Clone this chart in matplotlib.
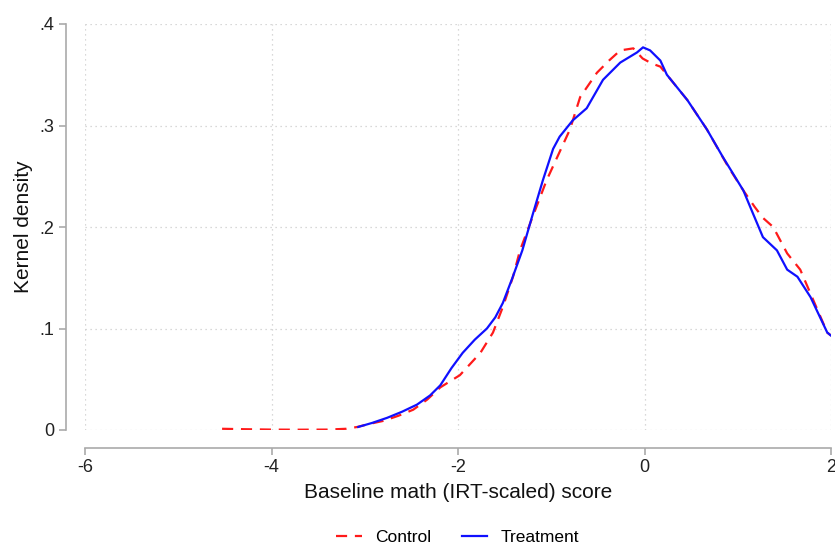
import numpy as np
import matplotlib.pyplot as plt

plt.rcParams['font.family'] = ['Liberation Sans', 'DejaVu Sans']

# Control (red dashed)
x_control = [-4.53, -4.3, -4.0, -3.7, -3.4, -3.2, -3.08, -2.95, -2.8, -2.64, -2.48, -2.33,
             -2.19, -1.98, -1.76, -1.625, -1.52, -1.41, -1.335, -1.2, -1.05, -0.92, -0.80,
             -0.69, -0.51, -0.38, -0.26, -0.12, -0.02, 0.08, 0.17, 0.31, 0.46, 0.67, 0.90,
             1.06, 1.18, 1.27, 1.38, 1.53, 1.67, 1.81, 1.96, 2.0]
y_control = [0.0012, 0.0008, 0.0004, 0.0003, 0.0004, 0.0012, 0.003, 0.006, 0.009, 0.014, 0.02, 0.03,
             0.042, 0.054, 0.076, 0.096, 0.121, 0.151, 0.177, 0.210, 0.246, 0.272, 0.296,
             0.328, 0.352, 0.364, 0.374, 0.376, 0.366, 0.361, 0.358, 0.342, 0.325, 0.296, 0.259,
             0.236, 0.220, 0.209, 0.200, 0.174, 0.158, 0.128, 0.096, 0.093]

# Treatment (blue solid)
x_treat = [-3.07, -2.92, -2.76, -2.6, -2.44, -2.3, -2.19, -2.07, -1.95, -1.82, -1.69, -1.6,
           -1.52, -1.42, -1.31, -1.2, -1.09, -0.98, -0.91, -0.77, -0.62, -0.445, -0.26, -0.08,
           -0.016, 0.06, 0.17, 0.24, 0.46, 0.67, 0.84, 1.06, 1.16, 1.27, 1.42, 1.53, 1.64,
           1.78, 1.96, 2.0]
y_treat = [0.003, 0.007, 0.012, 0.018, 0.025, 0.034, 0.044, 0.061, 0.076, 0.089, 0.100, 0.111,
           0.125, 0.149, 0.177, 0.212, 0.246, 0.277, 0.289, 0.305, 0.317, 0.345, 0.362, 0.372,
           0.377, 0.374, 0.364, 0.350, 0.325, 0.296, 0.269, 0.236, 0.214, 0.190, 0.177, 0.158,
           0.151, 0.131, 0.096, 0.093]

xticks = [-6, -4, -2, 0, 2]
yticks = [0, 0.1, 0.2, 0.3, 0.4]
ytick_labels = ['0', '.1', '.2', '.3', '.4']

fig = plt.figure(figsize=(8.35, 5.46), dpi=100)
ax = fig.add_axes([85 / 835, 1 - 430 / 546, (831 - 85) / 835, (430 - 24) / 546])

ax.plot(x_control, y_control, color='#ff1a1a', lw=1.6, ls=(0, (5, 3.5)), label='Control')
ax.plot(x_treat, y_treat, color='#1010ff', lw=1.6, label='Treatment')

ax.set_xlim(-6, 2)
ax.set_ylim(0, 0.4)
ax.set_xticks(xticks)
ax.set_xticklabels(['-6', '-4', '-2', '0', '2'])
ax.set_yticks(yticks)
ax.set_yticklabels(ytick_labels)
ax.grid(True, ls=(0, (1, 3)), color='#cccccc', lw=0.9)

for s in ['top', 'right']:
    ax.spines[s].set_visible(False)
ax.spines['left'].set_position(('outward', 14))
ax.spines['bottom'].set_position(('outward', 13))
for s in ['left', 'bottom']:
    ax.spines[s].set_color('#aaaaaa')
    ax.spines[s].set_linewidth(1.2)
ax.tick_params(colors='#aaaaaa', labelcolor='#222222', labelsize=13, length=5, width=1.2, pad=3)

ax.set_xlabel('Baseline math (IRT-scaled) score', fontsize=15, color='#111111', labelpad=5)
ax.set_ylabel('Kernel density', fontsize=15, color='#111111', labelpad=5)

fig.legend(loc='center', bbox_to_anchor=(0.548, 1 - 537 / 546), ncol=2, frameon=False,
           fontsize=12.5, handlelength=1.45, handletextpad=0.75, columnspacing=1.8)

fig.savefig('out.png', dpi=100)
